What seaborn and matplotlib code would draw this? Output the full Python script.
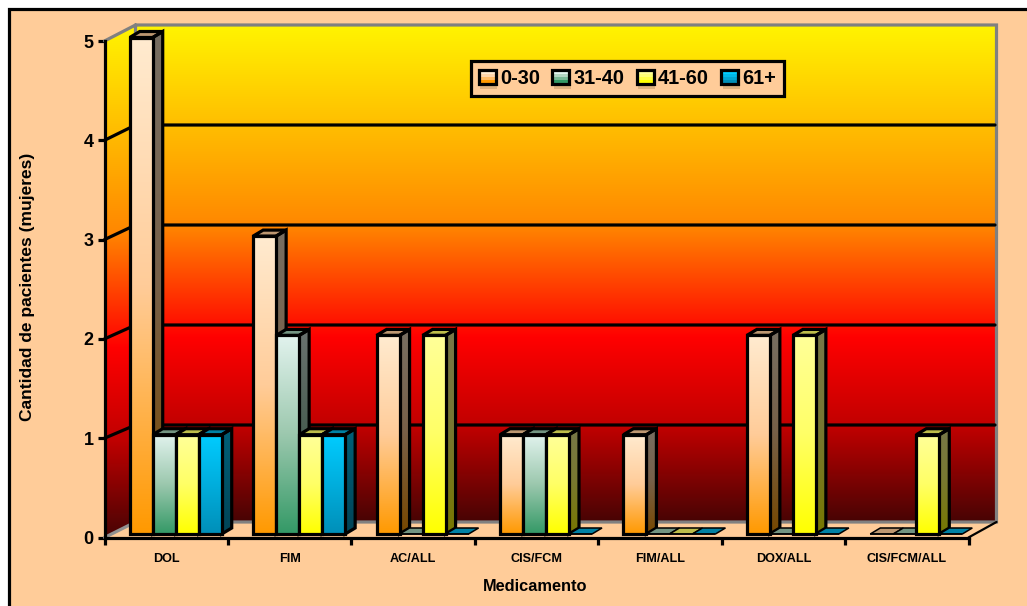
import numpy as np
import pandas as pd
import seaborn as sns
import matplotlib
matplotlib.use("Agg")
import matplotlib.pyplot as plt
from matplotlib.colors import LinearSegmentedColormap, to_rgb
from matplotlib.legend_handler import HandlerPatch
from matplotlib.patches import Patch, Polygon, Rectangle
from matplotlib.path import Path

# Patients per treatment and age group
treatments = ["DOL", "FIM", "AC/ALL", "CIS/FCM", "FIM/ALL", "DOX/ALL", "CIS/FCM/ALL"]
age_groups = ["0-30", "31-40", "41-60", "61+"]
age_0_30 = [5, 3, 2, 1, 1, 2, 0]
age_31_40 = [1, 2, 0, 1, 0, 0, 0]
age_41_60 = [1, 1, 2, 1, 0, 2, 1]
age_61_up = [1, 1, 0, 0, 0, 0, 0]

W, H = 1027, 606
PEACH = "#FFCC99"
LW = 2.3  # a little over three pixels at 100 dpi

sns.set_theme(style="white")
plt.rcParams["font.family"] = ["Liberation Sans", "DejaVu Sans"]
plt.rcParams["font.weight"] = "bold"

frame = pd.DataFrame({
    "treatment": treatments * 4,
    "group": np.repeat(age_groups, len(treatments)),
    "patients": age_0_30 + age_31_40 + age_41_60 + age_61_up,
})

# Colour ramps, listed from the foot of a bar to its head
ramps = {
    "0-30": ["#FF9900", "#FFCC99", "#FFEBD0"],
    "31-40": ["#339966", "#9CC8AE", "#E2F3EE"],
    "41-60": ["#FFFF00", "#FFFF66", "#FFFF99"],
    "61+": ["#008FB8", "#00AEDD", "#00CCFF"],
}
cmaps = {k: LinearSegmentedColormap.from_list(k, v) for k, v in ramps.items()}


def shaded(group, factor):
    rgb = [[c * factor for c in to_rgb(col)] for col in ramps[group]]
    return LinearSegmentedColormap.from_list(group + str(factor), rgb)


wall_cmap = LinearSegmentedColormap.from_list("wall", [
    (0.00, "#480404"), (0.19, "#C00000"), (0.37, "#FF0000"),
    (0.60, "#FF8800"), (0.80, "#FFBE00"), (1.00, "#FFF400"),
])

fig = plt.figure(figsize=(W / 100, H / 100), dpi=100, facecolor="white")
fig.add_artist(Rectangle((8.5 / W, -0.1), 1.2, 1.1 - 9.5 / H, transform=fig.transFigure,
                         facecolor=PEACH, edgecolor="black", linewidth=LW, zorder=-5))

ax = fig.add_axes([104.5 / W, 1 - 537.5 / H, 864 / W, 496.5 / H])
ax.patch.set_visible(False)

sns.barplot(data=frame, x="treatment", y="patients", hue="group",
            order=treatments, hue_order=age_groups, width=0.7455, gap=0,
            legend=False, ax=ax)

UX = 864 / 7      # pixels per category
UY = 496.5 / 5    # pixels per patient
XMIN, XMAX = -0.5, 6.5
WALL_X0 = XMIN + 31 / UX
WALL_X1 = XMAX + 28 / UX
WALL_Y0 = 15.5 / UY
WALL_Y1 = 5 + 16 / UY
BAR_DX = 9.5 / UX
BAR_DY = 3.5 / UY
BAR_DEPTH_X = 10 / UX
BAR_DEPTH_Y = 6 / UY


def gradient(cmap, x0, x1, y0, y1, zorder, clip=None):
    im = ax.imshow(np.linspace(1, 0, 256)[:, None], cmap=cmap, vmin=0, vmax=1, aspect="auto",
                   extent=(x0, x1, y0, y1), interpolation="bilinear", zorder=zorder)
    if clip is None:
        im.set_clip_on(False)
    else:
        im.set_clip_path(Path(clip), ax.transData)
        im.set_clip_box(fig.bbox)
    return im


# Back wall, side wall and floor
gradient(wall_cmap, WALL_X0, WALL_X1, WALL_Y0, WALL_Y1, 0.5)
side = [(XMIN, 0), (WALL_X0, WALL_Y0), (WALL_X0, WALL_Y1), (XMIN, 5)]
gradient(wall_cmap, XMIN, WALL_X0, 0, WALL_Y1, 0.5, clip=side + [side[0]])
ax.add_patch(Polygon([(XMIN, 0), (WALL_X0, WALL_Y0), (WALL_X1, WALL_Y0), (XMAX, 0)],
                     facecolor=PEACH, edgecolor="none", zorder=0.6, clip_on=False))
ax.plot([XMIN, WALL_X0, WALL_X1, WALL_X1, WALL_X0, WALL_X0],
        [5, WALL_Y1, WALL_Y1, WALL_Y0, WALL_Y0, WALL_Y1],
        color="#808080", lw=LW, zorder=0.9, clip_on=False, solid_joinstyle="miter")
ax.plot([XMIN, WALL_X0], [0, WALL_Y0], color="#909090", lw=LW, zorder=0.9, clip_on=False)
ax.plot([XMAX, WALL_X1], [0, WALL_Y0], color="black", lw=1.6, zorder=0.9, clip_on=False)

for level in range(1, 5):
    back = level + 12.5 / UY + level * 0.7 / UY
    ax.plot([XMIN, WALL_X0, WALL_X1 - 1.5 / UX], [level, back, back],
            color="black", lw=LW, zorder=1, clip_on=False, solid_joinstyle="miter")

# Turn each flat bar into a shaded box
boxes = []
for group, bars in zip(age_groups, ax.containers):
    boxes.extend((bar, group) for bar in bars)
boxes.sort(key=lambda item: item[0].get_x())

for order, (bar, group) in enumerate(boxes):
    z = 3 + order
    h = bar.get_height()
    if np.isnan(h):
        h = 0.0
    x0 = bar.get_x() + BAR_DX
    x1 = x0 + bar.get_width()
    y0, y1 = BAR_DY, BAR_DY + h
    ddx, ddy = BAR_DEPTH_X, BAR_DEPTH_Y
    # Empty bars collapse to a thin coloured slab, so their outline is lighter
    line = LW if h > 0 else 1.1
    edge = dict(edgecolor="black", linewidth=line, joinstyle="miter", clip_on=False)

    top = [(x0, y1), (x1, y1), (x1 + ddx, y1 + ddy), (x0 + ddx, y1 + ddy)]
    ax.add_patch(Polygon(top, facecolor=np.array(to_rgb(ramps[group][1])) * 0.74, zorder=z + 0.2, **edge))
    if h > 0:
        wall = [(x1, y0), (x1 + ddx, y0 + ddy), (x1 + ddx, y1 + ddy), (x1, y1)]
        gradient(shaded(group, 0.47), x1, x1 + ddx, y0, y1 + ddy, z + 0.1, clip=wall + [wall[0]])
        ax.add_patch(Polygon(wall, facecolor="none", zorder=z + 0.2, **edge))
        gradient(cmaps[group], x0, x1, y0, y1, z + 0.3)
    bar.set_x(x0)
    bar.set_y(y0)
    bar.set_height(h)
    bar.set_facecolor("none")
    bar.set_edgecolor("black")
    bar.set_linewidth(line)
    bar.set_joinstyle("miter")
    bar.set_clip_on(False)
    bar.set_zorder(z + 0.4)

# Axes, ticks and labels
ax.set_xlim(XMIN, XMAX)
ax.set_ylim(0, 5)
sns.despine(ax=ax)
for name in ("left", "bottom"):
    ax.spines[name].set_color("black")
    ax.spines[name].set_linewidth(LW)
ax.set_yticks(range(6))
ax.set_xticks(np.arange(XMIN, XMAX + 1), labels=[""] * 8)
ax.set_xticks(range(len(treatments)), labels=treatments, minor=True)
ax.tick_params(axis="x", which="major", length=5, width=LW, color="black", bottom=True)
ax.tick_params(axis="x", which="minor", length=0, pad=11, labelsize=9.1, labelcolor="black", bottom=True)
ax.tick_params(axis="y", length=5, width=LW, color="black", left=True, pad=3, labelsize=13, labelcolor="black")
ax.set_xlabel("Medicamento", fontsize=11.8, fontweight="bold", color="black")
ax.set_ylabel("Cantidad de pacientes (mujeres)", fontsize=12.5, fontweight="bold", color="black")
ax.xaxis.set_label_coords((535.5 - 104.5) / 864, -(586.5 - 537.5) / 496.5, ax.transAxes)
ax.xaxis.label.set_verticalalignment("center")
ax.yaxis.set_label_coords((28 - 104.5) / 864, (537.5 - 287) / 496.5, ax.transAxes)
ax.yaxis.label.set_verticalalignment("center")


class SwatchHandler(HandlerPatch):
    """Legend key with a stepped copy of the bar's colour ramp and a soft shadow."""

    def create_artists(self, legend, orig_handle, xdescent, ydescent, width, height, fontsize, trans):
        x, y = -xdescent, -ydescent
        group = orig_handle.get_label()
        parts = [Rectangle((x + 1, y - 4), width, height, facecolor="#A08050", alpha=0.35,
                           edgecolor="none", transform=trans)]
        steps = 4
        for i in range(steps):
            col = cmaps[group](1 - i / (steps - 1))
            parts.append(Rectangle((x, y + height * (steps - 1 - i) / steps), width, height / steps,
                                   facecolor=col, edgecolor="none", transform=trans))
        parts.append(Rectangle((x, y), width, height, facecolor="none", edgecolor="black",
                               linewidth=LW, joinstyle="miter", transform=trans))
        return parts


handles = [Patch(label=g) for g in age_groups]
legend = ax.legend(handles=handles, labels=age_groups, ncol=4, loc="center",
                   bbox_to_anchor=(627.5 / W, 1 - 78.5 / H), bbox_transform=fig.transFigure,
                   handler_map={Patch: SwatchHandler()},
                   prop={"family": "Liberation Sans", "weight": "bold", "size": 14.4},
                   handlelength=0.85, handleheight=0.65, handletextpad=0.2, columnspacing=0.62,
                   borderpad=0.42, borderaxespad=0, fancybox=False, framealpha=1,
                   facecolor=PEACH, edgecolor="black")
legend.get_frame().set_linewidth(LW)
legend.set_zorder(50)
for text in legend.get_texts():
    text.set_color("black")

fig.savefig("out.png", dpi=100, facecolor=fig.get_facecolor())
